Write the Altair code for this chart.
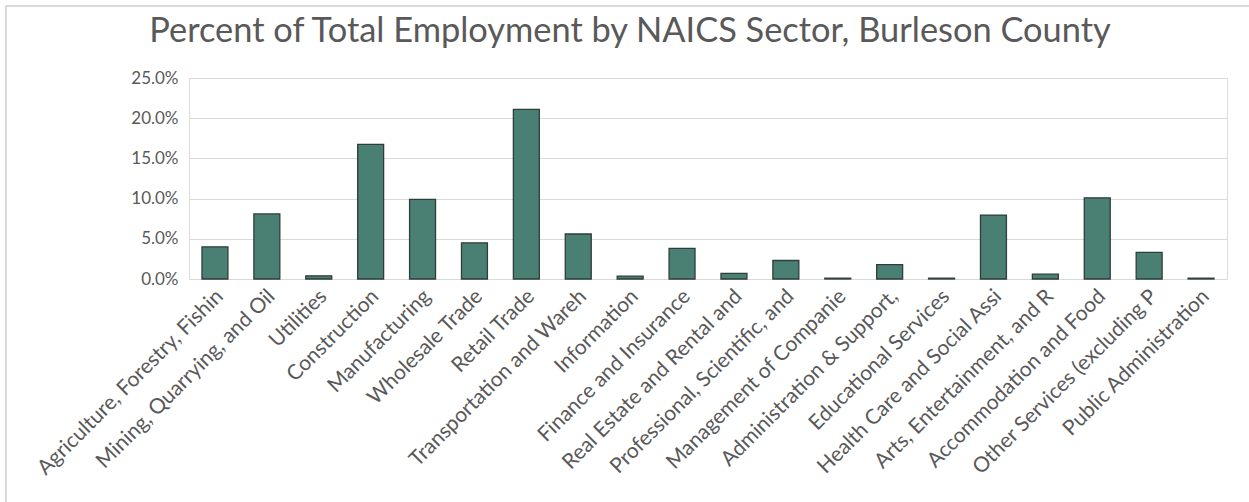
import altair as alt
import pandas as pd

categories = [
    "Agriculture, Forestry, Fishin",
    "Mining, Quarrying, and Oil",
    "Utilities",
    "Construction",
    "Manufacturing",
    "Wholesale Trade",
    "Retail Trade",
    "Transportation and Wareh",
    "Information",
    "Finance and Insurance",
    "Real Estate and Rental and",
    "Professional, Scientific, and",
    "Management of Companie",
    "Administration & Support,",
    "Educational Services",
    "Health Care and Social Assi",
    "Arts, Entertainment, and R",
    "Accommodation and Food",
    "Other Services (excluding P",
    "Public Administration",
]
percent = [4.0, 8.1, 0.4, 16.75, 9.9, 4.5, 21.1, 5.6, 0.35, 3.8,
           0.7, 2.3, 0.1, 1.8, 0.1, 7.95, 0.6, 10.1, 3.3, 0.1]

df = pd.DataFrame({"sector": categories, "share": [p / 100 for p in percent]})

FONT = "Lato"
TXT = "#595959"
GRID = "#d9d9d9"

bars = alt.Chart(df).mark_bar(
    fill="#4a7f74", stroke="#2f3e3a", strokeWidth=1.3
).encode(
    x=alt.X("sector:N", sort=categories, title=None,
            scale=alt.Scale(paddingInner=0.5, paddingOuter=0.25),
            axis=alt.Axis(labelAngle=-45, labelAlign="right", labelBaseline="middle",
                          labelPadding=14, labelOffset=5, labelLimit=0, ticks=False, domain=False,
                          labelFont=FONT, labelFontSize=21, labelColor=TXT, grid=False)),
    y=alt.Y("share:Q", title=None,
            scale=alt.Scale(domain=[0, 0.25]),
            axis=alt.Axis(values=[0, 0.05, 0.10, 0.15, 0.20, 0.25], format=".1%",
                          ticks=False, domain=False, labelPadding=11,
                          labelFont=FONT, labelFontSize=17, labelColor=TXT,
                          gridColor=GRID, gridWidth=1.2)),
)

frame = alt.Chart(df).mark_rect(fill=None, stroke=GRID, strokeWidth=1.2).encode(
    x=alt.value(-183), x2=alt.value(1075), y=alt.value(-72), y2=alt.value(440)
)

chart = alt.layer(frame, bars).properties(
    width=1038, height=201,
    title=alt.TitleParams(
        "Percent of Total Employment by NAICS Sector, Burleson County",
        font=FONT, fontSize=34.4, fontWeight="normal", color=TXT,
        anchor="middle", frame="group", dx=-78, dy=44, offset=0,
    ),
    autosize=alt.AutoSizeParams(type="none"),
    padding={"left": 189, "top": 78, "right": 22, "bottom": 223},
).configure_view(strokeWidth=0).configure(background="white")

chart.save("out.html", embed_options={"renderer": "svg", "actions": False})
